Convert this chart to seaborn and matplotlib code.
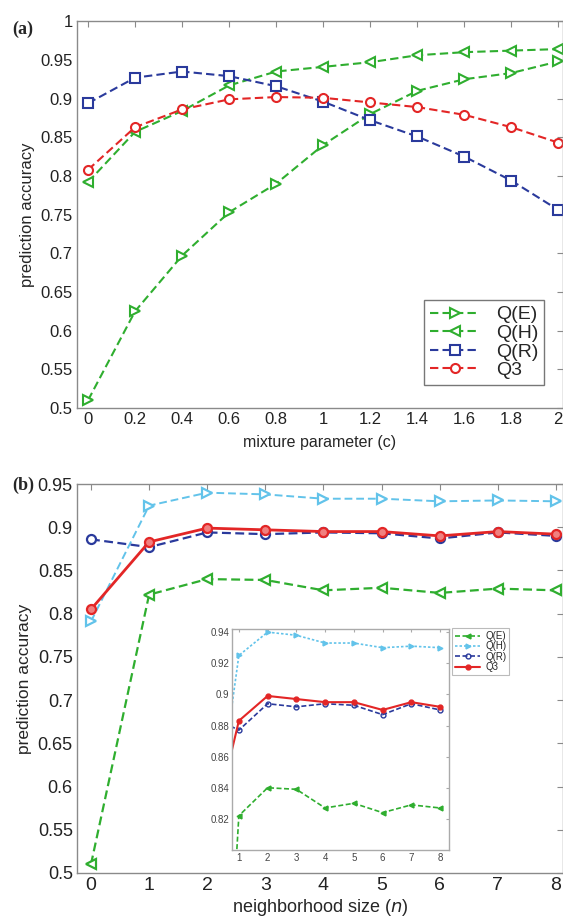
import numpy as np
import pandas as pd
import matplotlib
matplotlib.use('Agg')
import matplotlib.pyplot as plt
import seaborn as sns

# --- dados ---
c_vals = [0, 0.2, 0.4, 0.6, 0.8, 1.0, 1.2, 1.4, 1.6, 1.8, 2.0]
a_QE = [0.510, 0.625, 0.697, 0.753, 0.790, 0.840, 0.880, 0.910, 0.925, 0.933, 0.948]
a_QH = [0.792, 0.857, 0.884, 0.917, 0.935, 0.941, 0.947, 0.956, 0.960, 0.962, 0.964]
a_QR = [0.894, 0.927, 0.935, 0.929, 0.916, 0.896, 0.872, 0.851, 0.825, 0.794, 0.756]
a_Q3 = [0.808, 0.863, 0.886, 0.899, 0.902, 0.901, 0.895, 0.889, 0.879, 0.863, 0.843]

n_vals = [0, 1, 2, 3, 4, 5, 6, 7, 8]
b_QE = [0.510, 0.822, 0.840, 0.839, 0.827, 0.830, 0.824, 0.829, 0.827]
b_QH = [0.791, 0.925, 0.940, 0.938, 0.933, 0.933, 0.930, 0.931, 0.930]
b_QR = [0.886, 0.877, 0.894, 0.892, 0.894, 0.893, 0.887, 0.894, 0.890]
b_Q3 = [0.805, 0.883, 0.899, 0.897, 0.895, 0.895, 0.890, 0.895, 0.892]

labels = ['Q(E)', 'Q(H)', 'Q(R)', 'Q3']

GREEN = '#2fae2f'
CYAN = '#62c3ea'
BLUE = '#2a3a9c'
RED = '#e32626'
SPINE = '#8a8a8a'
DASH = (0, (4, 2))

sns.set_style('white')
plt.rcParams['font.family'] = ['Liberation Sans', 'DejaVu Sans']

fig = plt.figure(figsize=(5.63, 9.23), dpi=100)
ax_a = fig.add_axes([0.1368, 0.558, 0.8632, 0.419])
ax_b = fig.add_axes([0.1368, 0.0542, 0.8632, 0.4214])
ax_in = fig.add_axes([0.412, 0.0791, 0.3855, 0.2394])


def estilo_eixo(ax, fs, cor=SPINE, tam=4):
    for s in ax.spines.values():
        s.set_color(cor)
        s.set_linewidth(1.0)
    ax.tick_params(direction='in', top=True, right=True, length=tam,
                   color=cor, labelsize=fs, labelcolor='#222222', pad=3)


# --- painel (a) ---
df_a = pd.DataFrame({'c': c_vals, 'Q(E)': a_QE, 'Q(H)': a_QH, 'Q(R)': a_QR, 'Q3': a_Q3})
spec_a = [('Q(E)', GREEN, '>'), ('Q(H)', GREEN, '<'), ('Q(R)', BLUE, 's'), ('Q3', RED, 'o')]
for nome, cor, mk in spec_a:
    sns.lineplot(data=df_a, x='c', y=nome, ax=ax_a, color=cor, marker=mk,
                 linestyle=DASH, linewidth=1.5, markersize=6.5,
                 markerfacecolor='white', markeredgecolor=cor, markeredgewidth=1.5,
                 label=nome)
ax_a.set_xlim(-0.047, 2.02)
ax_a.set_ylim(0.5, 1.0)
ax_a.set_xticks(c_vals)
ax_a.set_xticklabels(['0', '0.2', '0.4', '0.6', '0.8', '1', '1.2', '1.4', '1.6', '1.8', '2'])
ax_a.set_yticks(np.arange(0.5, 1.001, 0.05))
ax_a.set_yticklabels(['0.5', '0.55', '0.6', '0.65', '0.7', '0.75', '0.8', '0.85', '0.9', '0.95', '1'])
estilo_eixo(ax_a, 12)
ax_a.set_xlabel('mixture parameter (c)', fontsize=11.5, labelpad=6)
ax_a.set_ylabel('prediction accuracy', fontsize=12, labelpad=4)
leg_a = ax_a.legend(loc='upper left', bbox_to_anchor=(0.753, 0.675),
                    bbox_transform=fig.transFigure, fontsize=14, frameon=True,
                    fancybox=False, borderpad=0.3, labelspacing=0.05,
                    handlelength=2.6, handletextpad=0.8, borderaxespad=0)
leg_a.get_frame().set_edgecolor('#555555')
leg_a.get_frame().set_linewidth(1.0)
fig.text(0.022, 0.968, '(a)', fontsize=13, fontweight='bold',
         family='Liberation Serif', va='center')

# --- painel (b) ---
df_b = pd.DataFrame({'n': n_vals, 'Q(E)': b_QE, 'Q(H)': b_QH, 'Q(R)': b_QR, 'Q3': b_Q3})
spec_b = [('Q(E)', GREEN, '<', DASH, 1.6, 'white'), ('Q(H)', CYAN, '>', DASH, 1.4, 'white'),
          ('Q(R)', BLUE, 'o', DASH, 1.6, 'white'), ('Q3', RED, 'o', '-', 2.0, '#f08080')]
for nome, cor, mk, ls, lw, face in spec_b:
    sns.lineplot(data=df_b, x='n', y=nome, ax=ax_b, color=cor, marker=mk,
                 linestyle=ls, linewidth=lw, markersize=6.5,
                 markerfacecolor=face, markeredgecolor=cor, markeredgewidth=1.6,
                 legend=False)
ax_b.set_xlim(-0.24, 8.12)
ax_b.set_ylim(0.5, 0.95)
ax_b.set_xticks(n_vals)
ax_b.set_yticks(np.arange(0.5, 0.951, 0.05))
ax_b.set_yticklabels(['0.5', '0.55', '0.6', '0.65', '0.7', '0.75', '0.8', '0.85', '0.9', '0.95'])
estilo_eixo(ax_b, 13)
ax_b.tick_params(axis='x', labelsize=14)
ax_b.set_xlabel('neighborhood size ($\\it{n}$)', fontsize=13, labelpad=2)
ax_b.set_ylabel('prediction accuracy', fontsize=12.5, labelpad=4)
fig.text(0.022, 0.4745, '(b)', fontsize=13, fontweight='bold',
         family='Liberation Serif', va='center')

# --- inset ---
spec_in = [('Q(E)', GREEN, '<', (0, (3, 1.5)), 1.2, GREEN),
           ('Q(H)', CYAN, '>', (0, (1.5, 1.2)), 1.2, CYAN),
           ('Q(R)', BLUE, 'o', (0, (3, 1.5)), 1.2, 'none'),
           ('Q3', RED, 'o', '-', 1.5, RED)]
for nome, cor, mk, ls, lw, face in spec_in:
    sns.lineplot(data=df_b, x='n', y=nome, ax=ax_in, color=cor, marker=mk,
                 linestyle=ls, linewidth=lw, markersize=3.5,
                 markerfacecolor=face, markeredgecolor=cor, markeredgewidth=1.0,
                 label=nome)
ax_in.set_xlim(0.76, 8.31)
ax_in.set_ylim(0.80, 0.942)
ax_in.set_xticks(range(1, 9))
ax_in.set_yticks([0.82, 0.84, 0.86, 0.88, 0.9, 0.92, 0.94])
ax_in.set_yticklabels(['0.82', '0.84', '0.86', '0.88', '0.9', '0.92', '0.94'])
ax_in.set_xlabel('')
ax_in.set_ylabel('')
estilo_eixo(ax_in, 7, cor='#aaaaaa', tam=2.5)
ax_in.tick_params(labelcolor='#444444', pad=2)
leg_in = ax_in.legend(loc='upper left', bbox_to_anchor=(0.803, 0.3196),
                      bbox_transform=fig.transFigure, fontsize=7, frameon=True,
                      fancybox=False, borderpad=0.3, labelspacing=0.05,
                      handlelength=2.6, handletextpad=0.5, borderaxespad=0)
leg_in.get_frame().set_edgecolor('#aaaaaa')
leg_in.get_frame().set_linewidth(0.8)

fig.savefig('out.png', dpi=100)
